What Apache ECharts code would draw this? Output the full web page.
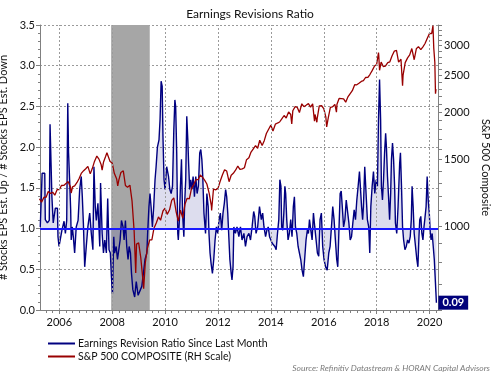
<!DOCTYPE html>
<html>
<head>
<meta charset="utf-8">
<script src="https://cdn.jsdelivr.net/npm/echarts@6/dist/echarts.min.js"></script>
<style>
  html, body { margin: 0; padding: 0; background: #fff; }
  #chart { width: 500px; height: 377px; }
</style>
</head>
<body>
<div id="chart"></div>
<script>
// earnings revision ratio, [decimal year, ratio]
var revisionRatio = [
  [2005.28,1.02],[2005.33,1.02],[2005.35,1.68],[2005.45,1.68],[2005.47,1.11],[2005.55,1.07],[2005.62,1.1],[2005.65,2.28],[2005.7,2.28],[2005.72,1.39],
  [2005.77,1.07],[2005.85,1.25],[2005.93,1.25],[2005.95,0.9],[2005.99,0.78],[2006.05,0.78],[2006.1,0.98],[2006.18,1.09],[2006.23,0.94],[2006.28,1.1],
  [2006.32,2.54],[2006.35,1.93],[2006.39,1.6],[2006.43,1.23],[2006.45,0.86],[2006.49,1.02],[2006.53,0.9],[2006.58,0.7],[2006.64,1.02],[2006.71,1.1],
  [2006.77,1.48],[2006.83,1.64],[2006.87,1.39],[2006.91,1.07],[2006.96,0.53],[2007.02,0.78],[2007.08,1.02],[2007.15,1.19],[2007.21,0.94],[2007.27,0.74],
  [2007.31,1.76],[2007.36,1.27],[2007.4,1.1],[2007.46,1.31],[2007.53,0.78],[2007.56,1.56],[2007.62,0.94],[2007.67,0.7],[2007.72,0.86],[2007.78,0.7],
  [2007.83,1.37],[2007.88,0.74],[2007.93,0.7],[2007.97,0.41],[2008.01,0.2],[2008.06,0.9],[2008.09,0.7],[2008.15,0.78],[2008.2,0.62],[2008.25,0.74],
  [2008.3,0.86],[2008.35,1.1],[2008.41,1.02],[2008.45,0.86],[2008.5,1.1],[2008.55,0.78],[2008.6,0.62],[2008.64,0.78],[2008.69,0.7],[2008.73,0.45],
  [2008.78,0.25],[2008.85,0.16],[2008.91,0.35],[2008.98,0.18],[2009.05,0.2],[2009.12,0.29],[2009.18,0.45],[2009.24,0.62],[2009.31,0.7],[2009.34,0.94],
  [2009.39,1.27],[2009.43,1.43],[2009.47,1.27],[2009.52,1.02],[2009.57,1.27],[2009.62,1.6],[2009.66,1.76],[2009.71,2.0],[2009.77,2.09],[2009.81,2.34],
  [2009.85,2.81],[2009.89,2.75],[2009.92,2.13],[2009.96,1.6],[2010.0,1.48],[2010.06,1.76],[2010.13,1.64],[2010.18,1.48],[2010.23,1.43],[2010.28,1.52],
  [2010.33,2.21],[2010.37,2.58],[2010.4,2.5],[2010.44,1.93],[2010.48,0.94],[2010.5,0.86],[2010.54,1.1],[2010.58,1.52],[2010.62,1.85],[2010.66,1.19],
  [2010.71,0.9],[2010.74,1.31],[2010.78,1.6],[2010.82,2.38],[2010.86,2.09],[2010.89,1.8],[2010.93,1.48],[2010.97,1.6],[2011.01,1.48],[2011.06,1.64],
  [2011.11,1.39],[2011.16,1.64],[2011.21,1.43],[2011.26,1.52],[2011.31,1.93],[2011.35,1.97],[2011.39,1.85],[2011.42,1.68],[2011.47,1.19],[2011.53,0.94],
  [2011.58,1.43],[2011.63,1.27],[2011.66,0.94],[2011.7,0.7],[2011.74,0.57],[2011.79,0.45],[2011.84,0.62],[2011.89,0.86],[2011.94,1.02],[2011.99,0.94],
  [2012.04,1.1],[2012.09,1.19],[2012.14,0.98],[2012.19,1.19],[2012.24,1.31],[2012.29,1.48],[2012.33,1.39],[2012.37,1.19],[2012.41,0.9],[2012.45,0.62],
  [2012.5,0.45],[2012.53,0.37],[2012.57,0.53],[2012.6,1.02],[2012.66,0.94],[2012.72,1.02],[2012.79,0.9],[2012.85,1.02],[2012.91,0.86],[2012.98,0.94],
  [2013.04,0.78],[2013.1,0.9],[2013.17,0.94],[2013.23,0.86],[2013.29,1.02],[2013.35,1.21],[2013.39,1.15],[2013.44,0.94],[2013.5,1.02],[2013.57,1.27],
  [2013.61,1.29],[2013.64,1.11],[2013.69,1.19],[2013.74,1.02],[2013.8,0.9],[2013.85,0.98],[2013.9,1.02],[2013.95,0.9],[2014.0,0.86],[2014.05,0.82],
  [2014.1,0.82],[2014.15,0.78],[2014.2,0.74],[2014.25,0.94],[2014.3,1.11],[2014.34,1.6],[2014.38,1.52],[2014.41,1.02],[2014.45,0.98],[2014.49,1.19],
  [2014.53,1.52],[2014.56,1.43],[2014.6,1.11],[2014.65,0.86],[2014.7,0.94],[2014.75,1.11],[2014.8,0.9],[2014.85,1.27],[2014.89,1.39],[2014.93,1.02],
  [2014.98,0.94],[2015.03,0.78],[2015.08,0.7],[2015.13,0.62],[2015.18,0.49],[2015.23,0.41],[2015.28,0.4],[2015.33,0.86],[2015.38,0.98],[2015.42,0.94],
  [2015.46,1.11],[2015.51,0.98],[2015.56,0.86],[2015.61,1.19],[2015.66,1.02],[2015.71,0.86],[2015.76,0.7],[2015.81,0.66],[2015.86,1.11],[2015.91,1.19],
  [2015.96,0.78],[2016.01,0.62],[2016.07,0.53],[2016.13,0.49],[2016.19,0.7],[2016.24,0.78],[2016.31,1.11],[2016.34,1.27],[2016.39,1.11],[2016.44,0.86],
  [2016.49,0.62],[2016.53,0.53],[2016.57,0.94],[2016.62,1.43],[2016.66,1.46],[2016.7,1.27],[2016.75,1.02],[2016.8,1.11],[2016.85,1.35],[2016.9,1.35],
  [2016.95,1.07],[2017.0,0.86],[2017.05,0.9],[2017.1,1.07],[2017.15,1.23],[2017.2,1.11],[2017.25,1.35],[2017.3,1.52],[2017.35,1.7],[2017.39,1.72],
  [2017.43,1.27],[2017.47,1.11],[2017.5,1.27],[2017.55,1.76],[2017.6,1.43],[2017.65,1.11],[2017.7,1.02],[2017.74,0.7],[2017.78,1.27],[2017.83,1.52],
  [2017.88,1.7],[2017.93,1.43],[2017.98,1.6],[2018.03,1.52],[2018.07,2.34],[2018.11,2.83],[2018.15,2.34],[2018.18,1.52],[2018.22,1.35],[2018.26,1.6],
  [2018.3,1.93],[2018.34,2.17],[2018.37,2.0],[2018.41,1.64],[2018.45,1.39],[2018.49,1.11],[2018.53,1.43],[2018.56,1.85],[2018.6,2.05],[2018.64,1.85],
  [2018.68,1.52],[2018.71,1.07],[2018.76,0.94],[2018.81,1.27],[2018.87,1.8],[2018.9,1.93],[2018.94,1.52],[2018.98,1.02],[2019.02,0.86],[2019.07,0.74],
  [2019.12,0.78],[2019.17,0.86],[2019.22,0.82],[2019.27,0.9],[2019.31,1.11],[2019.34,1.52],[2019.38,1.27],[2019.42,0.94],[2019.47,0.78],[2019.52,0.62],
  [2019.56,0.53],[2019.6,0.9],[2019.63,1.11],[2019.67,1.15],[2019.71,0.94],[2019.75,0.86],[2019.79,1.02],[2019.82,1.11],[2019.87,1.27],[2019.91,1.64],
  [2019.95,1.35],[2019.99,1.19],[2020.03,0.94],[2020.06,0.86],[2020.1,0.94],[2020.14,0.78],[2020.18,0.62],[2020.21,0.42],[2020.24,0.22],[2020.26,0.09]
];

// S&P 500 composite, [decimal year, index level]
var sp500 = [
  [2005.25,1181],[2005.33,1157],[2005.42,1192],[2005.5,1191],[2005.58,1234],[2005.67,1220],[2005.75,1229],[2005.83,1207],[2005.92,1249],[2006.0,1248],
  [2006.08,1280],[2006.17,1281],[2006.25,1295],[2006.33,1311],[2006.42,1270],[2006.45,1223],[2006.5,1270],[2006.58,1277],[2006.67,1304],[2006.75,1336],
  [2006.83,1378],[2006.92,1401],[2007.0,1418],[2007.08,1438],[2007.17,1374],[2007.25,1421],[2007.33,1482],[2007.42,1531],[2007.5,1503],[2007.58,1455],
  [2007.62,1406],[2007.67,1474],[2007.75,1527],[2007.8,1562],[2007.83,1549],[2007.92,1481],[2008.0,1468],[2008.08,1379],[2008.17,1331],[2008.21,1277],
  [2008.25,1323],[2008.33,1386],[2008.42,1400],[2008.5,1280],[2008.58,1267],[2008.67,1283],[2008.75,1166],[2008.83,969],[2008.89,752],[2008.92,896],
  [2009.0,903],[2009.08,826],[2009.15,735],[2009.19,683],[2009.25,798],[2009.33,873],[2009.42,919],[2009.5,919],[2009.58,987],[2009.67,1021],
  [2009.75,1057],[2009.83,1036],[2009.92,1096],[2010.0,1115],[2010.08,1074],[2010.17,1104],[2010.25,1169],[2010.33,1187],[2010.42,1089],[2010.5,1031],
  [2010.51,1022],[2010.58,1102],[2010.67,1049],[2010.75,1141],[2010.83,1183],[2010.92,1181],[2011.0,1258],[2011.08,1286],[2011.17,1327],[2011.25,1326],
  [2011.33,1364],[2011.42,1345],[2011.5,1321],[2011.58,1292],[2011.67,1219],[2011.75,1131],[2011.76,1099],[2011.83,1253],[2011.92,1247],[2012.0,1258],
  [2012.08,1312],[2012.17,1366],[2012.25,1408],[2012.33,1398],[2012.42,1310],[2012.5,1362],[2012.58,1379],[2012.67,1407],[2012.75,1441],[2012.83,1412],
  [2012.92,1416],[2013.0,1426],[2013.08,1498],[2013.17,1515],[2013.25,1569],[2013.33,1598],[2013.42,1631],[2013.5,1606],[2013.58,1686],[2013.67,1633],
  [2013.75,1682],[2013.83,1757],[2013.92,1806],[2014.0,1848],[2014.08,1783],[2014.17,1859],[2014.25,1872],[2014.33,1884],[2014.42,1924],[2014.5,1960],
  [2014.58,1931],[2014.67,2003],[2014.75,1972],[2014.79,1862],[2014.83,2018],[2014.92,2068],[2015.0,2059],[2015.08,1995],[2015.17,2105],[2015.25,2068],
  [2015.33,2086],[2015.42,2107],[2015.5,2063],[2015.58,2104],[2015.65,1893],[2015.67,1972],[2015.74,1881],[2015.75,1920],[2015.83,2079],[2015.92,2080],
  [2016.0,2044],[2016.08,1940],[2016.11,1829],[2016.17,1932],[2016.25,2060],[2016.33,2065],[2016.42,2097],[2016.48,2001],[2016.5,2099],[2016.58,2174],
  [2016.67,2171],[2016.75,2168],[2016.83,2126],[2016.92,2199],[2017.0,2239],[2017.08,2279],[2017.17,2364],[2017.25,2363],[2017.33,2384],[2017.42,2412],
  [2017.5,2423],[2017.58,2470],[2017.67,2472],[2017.75,2519],[2017.83,2575],[2017.92,2648],[2018.0,2674],[2018.07,2873],[2018.08,2824],[2018.11,2581],
  [2018.17,2714],[2018.25,2641],[2018.33,2648],[2018.42,2705],[2018.5,2718],[2018.58,2816],[2018.67,2902],[2018.72,2931],[2018.75,2914],[2018.83,2712],
  [2018.92,2760],[2018.98,2351],[2019.0,2507],[2019.08,2704],[2019.17,2784],[2019.25,2834],[2019.33,2946],[2019.42,2752],[2019.5,2942],[2019.58,2980],
  [2019.67,2926],[2019.75,2977],[2019.83,3038],[2019.92,3141],[2020.0,3231],[2020.08,3226],[2020.13,3386],[2020.16,2954],[2020.2,2711],[2020.225,2237],
  [2020.245,2300]
];

var recession = [2007.96, 2009.42];
var yearLabels = [2006, 2008, 2010, 2012, 2014, 2016, 2018, 2020];
var spxLabels = [1000, 1500, 2000, 2500, 3000];

var quarterTicks = [];
for (var q = 2005.5; q <= 2020.3; q += 0.25) quarterTicks.push(q);
var spxTicks = [];
for (var t = 600; t <= 3400; t += 100) spxTicks.push(t);

var FONT = 'Lato';
var AXIS = '#808080';
var GRID = '#9a9a9a';

var chart = echarts.init(document.getElementById('chart'));
chart.setOption({
  animation: false,
  textStyle: { fontFamily: FONT },
  title: {
    text: 'Earnings Revisions Ratio',
    left: 'center',
    top: 3,
    textStyle: { fontFamily: FONT, fontSize: 12, fontWeight: 'normal', color: '#111' }
  },
  legend: {
    data: ['Earnings Revision Ratio Since Last Month', 'S&P 500 COMPOSITE (RH Scale)'],
    orient: 'vertical',
    left: 43,
    top: 333,
    icon: 'rect',
    itemWidth: 27,
    itemHeight: 2,
    itemGap: 2,
    textStyle: { fontFamily: FONT, fontSize: 10.5, color: '#111', padding: [0, 0, 0, -2] }
  },
  graphic: [{
    type: 'text',
    right: 10,
    bottom: 4,
    style: {
      text: 'Source: Refinitiv Datastream & HORAN Capital Advisors',
      font: 'italic 8.5px Lato',
      fill: '#7a7a7a'
    }
  }],
  grid: { left: 40, right: 62, top: 25, bottom: 67, containLabel: false, outerBoundsMode: 'none' },
  xAxis: [{
    type: 'value',
    min: 2005.27,
    max: 2020.32,
    axisLine: { onZero: false, lineStyle: { color: AXIS } },
    axisTick: { customValues: yearLabels, length: 4, lineStyle: { color: AXIS } },
    axisLabel: {
      customValues: yearLabels,
      formatter: function (v) { return String(Math.round(v)); },
      color: '#111', fontSize: 11, fontFamily: FONT, margin: 7
    },
    splitLine: { show: false }
  }, {
    type: 'value',
    min: 2005.27,
    max: 2020.32,
    position: 'bottom',
    axisLine: { show: false },
    axisTick: { customValues: quarterTicks, length: 3, lineStyle: { color: AXIS } },
    axisLabel: { show: false },
    splitLine: { show: false }
  }],
  yAxis: [{
    type: 'value',
    min: 0,
    max: 3.5,
    interval: 0.5,
    name: '# Stocks EPS Est. Up / # Stocks EPS Est. Down',
    nameLocation: 'middle',
    nameRotate: 90,
    nameGap: 28,
    nameTextStyle: { fontFamily: FONT, fontSize: 11, color: '#111' },
    axisLine: { show: true, lineStyle: { color: AXIS } },
    axisTick: { show: true, length: 4, lineStyle: { color: AXIS } },
    minorTick: { show: true, splitNumber: 5, length: 2, lineStyle: { color: AXIS } },
    axisLabel: {
      formatter: function (v) { return v.toFixed(1); },
      color: '#111', fontSize: 11, fontFamily: FONT, margin: 5
    },
    splitLine: { show: true, lineStyle: { type: [2, 2], color: GRID } }
  }, {
    type: 'log',
    logBase: 10,
    min: 600,
    max: 3400,
    position: 'right',
    name: 'S&P 500 Composite',
    nameLocation: 'middle',
    nameRotate: -90,
    nameGap: 40,
    nameTextStyle: { fontFamily: FONT, fontSize: 11, color: '#111' },
    axisLine: { show: true, lineStyle: { color: AXIS } },
    axisTick: { customValues: spxTicks, length: 4, lineStyle: { color: AXIS } },
    axisLabel: {
      customValues: spxLabels,
      formatter: function (v) { return String(Math.round(v)); },
      color: '#111', fontSize: 11, fontFamily: FONT, margin: 6
    },
    splitLine: { show: false }
  }],
  series: [{
    name: 'recession',
    type: 'line',
    data: [],
    z: 1,
    markArea: {
      silent: true,
      itemStyle: { color: '#a6a6a6' },
      data: [[{ xAxis: recession[0] }, { xAxis: recession[1] }]]
    },
    // vertical year grid lines
    markLine: {
      silent: true,
      symbol: 'none',
      label: { show: false },
      lineStyle: { color: GRID, width: 1, type: [2, 2] },
      data: yearLabels.map(function (y) { return { xAxis: y }; })
    }
  }, {
    name: 'Earnings Revision Ratio Since Last Month',
    type: 'line',
    data: revisionRatio,
    showSymbol: false,
    color: '#000080',
    z: 3,
    lineStyle: { color: '#000080', width: 1.4 },
    areaStyle: { origin: 1, color: 'rgba(95,95,175,0.3)' },
    markLine: {
      silent: true,
      symbol: 'none',
      label: { show: false },
      lineStyle: { color: '#1a1aff', width: 2, type: 'solid' },
      data: [{ yAxis: 1 }]
    },
    endLabel: {
      show: true,
      formatter: function (p) { return p.value[1].toFixed(2); },
      color: '#fff',
      fontWeight: 'bold',
      fontSize: 11,
      fontFamily: FONT,
      backgroundColor: '#00007a',
      padding: [2, 4, 1, 4],
      distance: 2
    }
  }, {
    name: 'S&P 500 COMPOSITE (RH Scale)',
    type: 'line',
    yAxisIndex: 1,
    data: sp500,
    showSymbol: false,
    color: '#990000',
    z: 4,
    lineStyle: { color: '#990000', width: 1.3 }
  }]
});
</script>
</body>
</html>
